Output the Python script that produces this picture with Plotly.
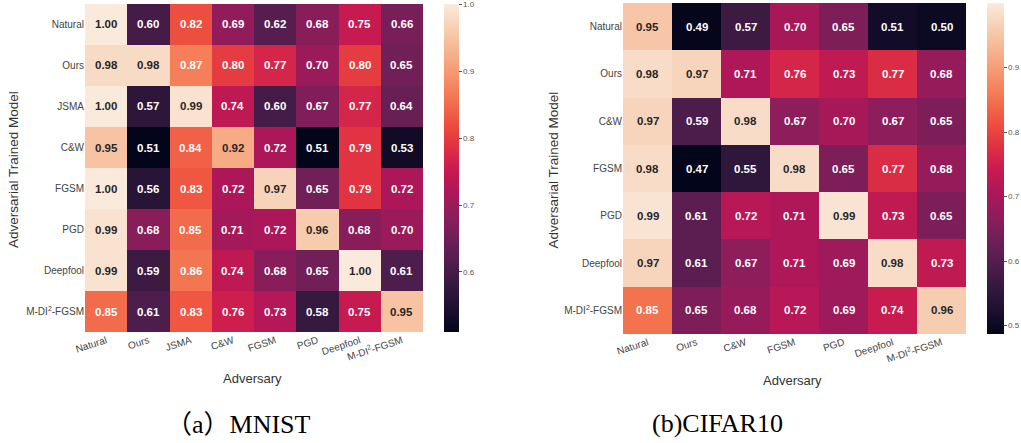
import plotly.graph_objects as go

# ---------------- data ----------------
mnist_models = ["Natural", "Ours", "JSMA", "C&W", "FGSM", "PGD", "Deepfool", "M-DI<sup>2</sup>-FGSM"]
mnist_adv = ["Natural", "Ours", "JSMA", "C&W", "FGSM", "PGD", "Deepfool", "M-DI<sup>2</sup>-FGSM"]
mnist_vals = [
    [1.00, 0.60, 0.82, 0.69, 0.62, 0.68, 0.75, 0.66],
    [0.98, 0.98, 0.87, 0.80, 0.77, 0.70, 0.80, 0.65],
    [1.00, 0.57, 0.99, 0.74, 0.60, 0.67, 0.77, 0.64],
    [0.95, 0.51, 0.84, 0.92, 0.72, 0.51, 0.79, 0.53],
    [1.00, 0.56, 0.83, 0.72, 0.97, 0.65, 0.79, 0.72],
    [0.99, 0.68, 0.85, 0.71, 0.72, 0.96, 0.68, 0.70],
    [0.99, 0.59, 0.86, 0.74, 0.68, 0.65, 1.00, 0.61],
    [0.85, 0.61, 0.83, 0.76, 0.73, 0.58, 0.75, 0.95],
]
mnist_ticks = [0.6, 0.7, 0.8, 0.9, 1.0]

cifar_models = ["Natural", "Ours", "C&W", "FGSM", "PGD", "Deepfool", "M-DI<sup>2</sup>-FGSM"]
cifar_adv = ["Natural", "Ours", "C&W", "FGSM", "PGD", "Deepfool", "M-DI<sup>2</sup>-FGSM"]
cifar_vals = [
    [0.95, 0.49, 0.57, 0.70, 0.65, 0.51, 0.50],
    [0.98, 0.97, 0.71, 0.76, 0.73, 0.77, 0.68],
    [0.97, 0.59, 0.98, 0.67, 0.70, 0.67, 0.65],
    [0.98, 0.47, 0.55, 0.98, 0.65, 0.77, 0.68],
    [0.99, 0.61, 0.72, 0.71, 0.99, 0.73, 0.65],
    [0.97, 0.61, 0.67, 0.71, 0.69, 0.98, 0.73],
    [0.85, 0.65, 0.68, 0.72, 0.69, 0.74, 0.96],
]
cifar_ticks = [0.5, 0.6, 0.7, 0.8, 0.9]

# seaborn "rocket"-like colorscale
rocket = [
    [0.0, "#03051a"],
    [0.07, "#1c1030"],
    [0.143, "#35193e"],
    [0.214, "#511e4d"],
    [0.286, "#701f57"],
    [0.357, "#8e1d5b"],
    [0.429, "#ad1759"],
    [0.5, "#cb1b4f"],
    [0.571, "#e13342"],
    [0.643, "#ee5340"],
    [0.714, "#f37651"],
    [0.786, "#f5966f"],
    [0.857, "#f6b48f"],
    [0.93, "#f7d0b5"],
    [1.0, "#faebdd"],
]

W, H = 1021, 443
FONT = "Liberation Sans, Arial, sans-serif"

fig = go.Figure()


def px_x(p):
    return p / W


def px_y(p):
    return 1 - p / H


panels = [
    dict(models=mnist_models, adv=mnist_adv, vals=mnist_vals, ticks=mnist_ticks,
         zmin=0.51, zmax=1.001, xd=(85, 423), yd=(4, 332), cbx=444, cbth=15,
         xa="x", ya="y", ytitle_x=13, xtitle_y=378),
    dict(models=cifar_models, adv=cifar_adv, vals=cifar_vals, ticks=cifar_ticks,
         zmin=0.487, zmax=1.0, xd=(623, 966), yd=(3, 334), cbx=987, cbth=17,
         xa="x2", ya="y2", ytitle_x=553, xtitle_y=380),
]

annotations = []
for i, p in enumerate(panels):
    fig.add_trace(go.Heatmap(
        z=p["vals"], x=p["adv"], y=p["models"],
        colorscale=rocket, zmin=p["zmin"], zmax=p["zmax"],
        xaxis=p["xa"], yaxis=p["ya"], xgap=0, ygap=0,
        hoverinfo="skip",
        colorbar=dict(
            x=px_x(p["cbx"]), xanchor="left", xpad=0, ypad=0,
            y=px_y((p["yd"][0] + p["yd"][1]) / 2), yanchor="middle",
            lenmode="pixels", len=p["yd"][1] - p["yd"][0],
            thickness=p["cbth"], outlinewidth=0,
            tickvals=p["ticks"], ticktext=[f"{t:.1f}" for t in p["ticks"]],
            ticks="outside", ticklen=3, tickcolor="#555", tickwidth=1,
            tickfont=dict(size=8, color="#555", family=FONT),
        ),
    ))
    for r, row in enumerate(p["vals"]):
        for c, v in enumerate(row):
            norm = (v - p["zmin"]) / (p["zmax"] - p["zmin"])
            col = "#262626" if norm > 0.78 else "white"
            annotations.append(dict(
                x=p["adv"][c], y=p["models"][r], xref=p["xa"], yref=p["ya"],
                text=f"<b>{v:.2f}</b>", showarrow=False,
                font=dict(size=11.5, color=col, family=FONT),
            ))
    axn = "" if i == 0 else "2"
    fig.update_layout(**{
        f"xaxis{axn}": dict(
            domain=[px_x(p["xd"][0]), px_x(p["xd"][1])],
            anchor=p["ya"], tickangle=-18, ticks="", automargin=False,
            tickfont=dict(size=10, color="#444", family=FONT),
            showgrid=False, zeroline=False, showline=False,
        ),
        f"yaxis{axn}": dict(
            domain=[px_y(p["yd"][1]), px_y(p["yd"][0])],
            anchor=p["xa"], autorange="reversed", ticks="", automargin=False,
            tickfont=dict(size=10, color="#444", family=FONT),
            showgrid=False, zeroline=False, showline=False,
        ),
    })
    # axis titles
    annotations.append(dict(
        x=px_x((p["xd"][0] + p["xd"][1]) / 2 - 2), y=px_y(p["xtitle_y"]),
        xref="paper", yref="paper", text="Adversary", showarrow=False,
        font=dict(size=13, color="#333", family=FONT),
        xanchor="center", yanchor="middle",
    ))
    annotations.append(dict(
        x=px_x(p["ytitle_x"]), y=px_y((p["yd"][0] + p["yd"][1]) / 2 + 2),
        xref="paper", yref="paper", text="Adversarial Trained Model",
        showarrow=False, textangle=-90,
        font=dict(size=13.5, color="#333", family=FONT),
        xanchor="center", yanchor="middle",
    ))

# captions
annotations.append(dict(
    x=px_x(238), y=px_y(424), xref="paper", yref="paper",
    text="（a）MNIST", showarrow=False,
    font=dict(size=26, color="black", family="Liberation Serif, Noto Sans CJK SC, serif"),
    xanchor="center", yanchor="middle",
))
annotations.append(dict(
    x=px_x(717), y=px_y(423), xref="paper", yref="paper",
    text="(b)CIFAR10", showarrow=False,
    font=dict(size=26, color="black", family="Liberation Serif, serif"),
    xanchor="center", yanchor="middle",
))

fig.update_layout(
    width=W, height=H,
    margin=dict(l=0, r=0, t=0, b=0, autoexpand=False),
    paper_bgcolor="white", plot_bgcolor="white",
    annotations=annotations,
    showlegend=False,
)

fig.write_html(
    "out.html",
    config={"displayModeBar": False},
    post_script="document.body.style.margin='0px';document.body.style.overflow='hidden';",
)
